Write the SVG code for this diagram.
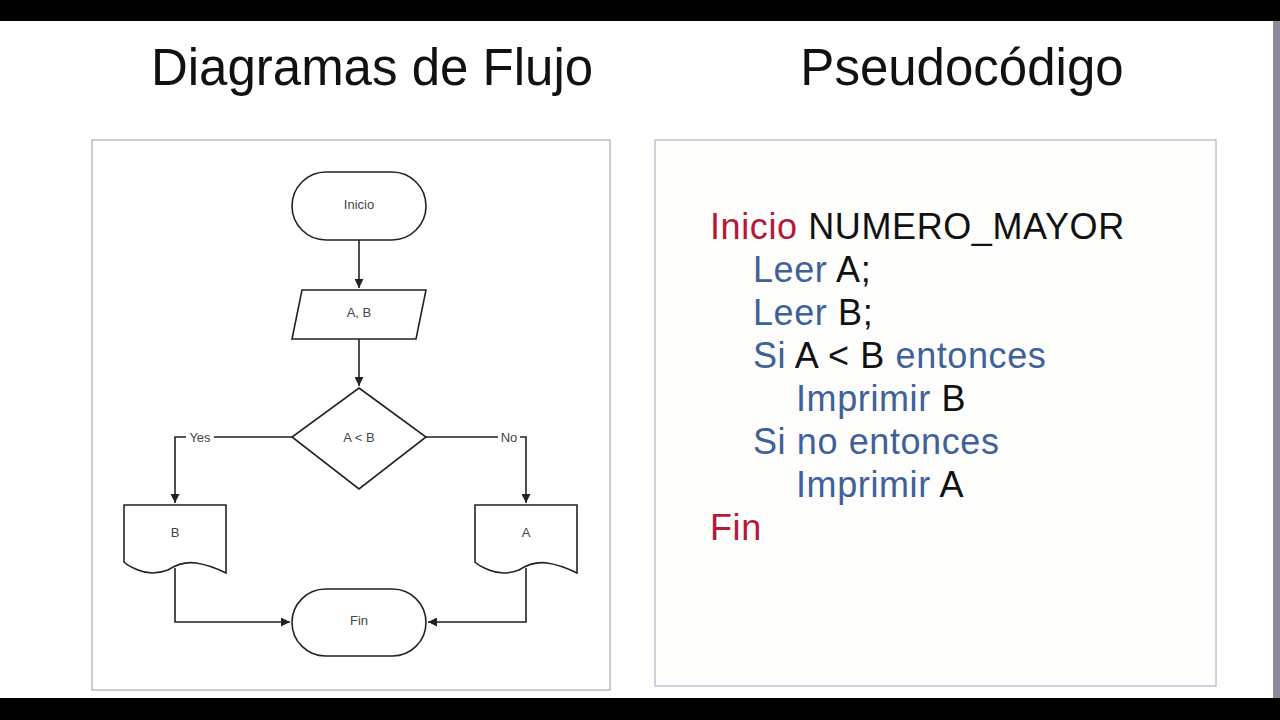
<svg xmlns="http://www.w3.org/2000/svg" width="1280" height="720" viewBox="0 0 1280 720">
<style>
.s{fill:#fff;stroke:#222;stroke-width:1.6}
.l{fill:none;stroke:#222;stroke-width:1.6}
.t{font-family:"Liberation Sans",Arial,sans-serif;font-size:13px;fill:#444;text-anchor:middle}
.h{font-family:"Liberation Sans",Arial,sans-serif;font-size:51px;fill:#111;text-anchor:middle}
.c{font-family:"Liberation Sans",Arial,sans-serif;font-size:36px;letter-spacing:0.6px}
.r{fill:#b8173a}.b{fill:#3f6199}.k{fill:#111}
</style>
<defs><marker id="a" viewBox="0 0 10 10" refX="10" refY="5" markerWidth="9" markerHeight="9" markerUnits="userSpaceOnUse" orient="auto"><path d="M0,0L10,5L0,10z" fill="#222"/></marker></defs>
<rect width="1280" height="720" fill="#fff"/>
<rect width="1280" height="21" fill="#000"/>
<rect y="698" width="1280" height="22" fill="#000"/>
<rect x="1273" y="21" width="7" height="677" fill="#8a8a9a"/>
<text class="h" x="372" y="85">Diagramas de Flujo</text>
<text class="h" x="962" y="85">Pseudocódigo</text>
<rect x="92" y="140" width="518" height="550" fill="#fff" stroke="#aaa" stroke-width="1.2"/>
<rect x="655" y="140" width="561" height="546" fill="#fdfdfb" stroke="#a9b6c8" stroke-width="1.2"/>
<g id="connectors">
<path class="l" d="M359,240V288" marker-end="url(#a)"/>
<path class="l" d="M359,339V386" marker-end="url(#a)"/>
<path class="l" d="M292,437H175V503" marker-end="url(#a)"/>
<path class="l" d="M426,437H526V503" marker-end="url(#a)"/>
<path class="l" d="M175,568V622H290" marker-end="url(#a)"/>
<path class="l" d="M526,568V622H428" marker-end="url(#a)"/>
<rect x="186" y="430" width="28" height="14" fill="#fff"/>
<text class="t" x="200" y="442">Yes</text>
<rect x="498" y="430" width="22" height="14" fill="#fff"/>
<text class="t" x="509" y="442">No</text>
</g>
<g id="inicio"><rect class="s" x="292" y="172" width="134" height="68" rx="34"/><text class="t" x="359" y="209">Inicio</text></g>
<g id="input"><path class="s" d="M302,290H426L416,339H292z"/><text class="t" x="359" y="317">A, B</text></g>
<g id="decision"><path class="s" d="M359,388L426,437L359,489L292,437z"/><text class="t" x="359" y="442">A &lt; B</text></g>
<g id="outB"><path class="s" d="M124,505H226V573Q210,565 196,563Q182,561 168,570Q152,576 138,570Q128,566 124,562z"/><text class="t" x="175" y="537">B</text></g>
<g id="outA"><path class="s" d="M475,505H577V573Q561,565 547,563Q533,561 519,570Q503,576 489,570Q479,566 475,562z"/><text class="t" x="526" y="537">A</text></g>
<g id="fin"><rect class="s" x="292" y="589" width="134" height="67" rx="33.5"/><text class="t" x="359" y="625">Fin</text></g>
<g id="code" class="c">
<text x="710" y="239"><tspan class="r">Inicio</tspan><tspan class="k"> NUMERO_MAYOR</tspan></text>
<text x="753" y="282"><tspan class="b">Leer</tspan><tspan class="k"> A;</tspan></text>
<text x="753" y="325"><tspan class="b">Leer</tspan><tspan class="k"> B;</tspan></text>
<text x="753" y="368"><tspan class="b">Si</tspan><tspan class="k"> A &lt; B </tspan><tspan class="b">entonces</tspan></text>
<text x="796" y="411"><tspan class="b">Imprimir</tspan><tspan class="k"> B</tspan></text>
<text x="753" y="454"><tspan class="b">Si no entonces</tspan></text>
<text x="796" y="497"><tspan class="b">Imprimir</tspan><tspan class="k"> A</tspan></text>
<text x="710" y="540" class="r">Fin</text>
</g>
</svg>
